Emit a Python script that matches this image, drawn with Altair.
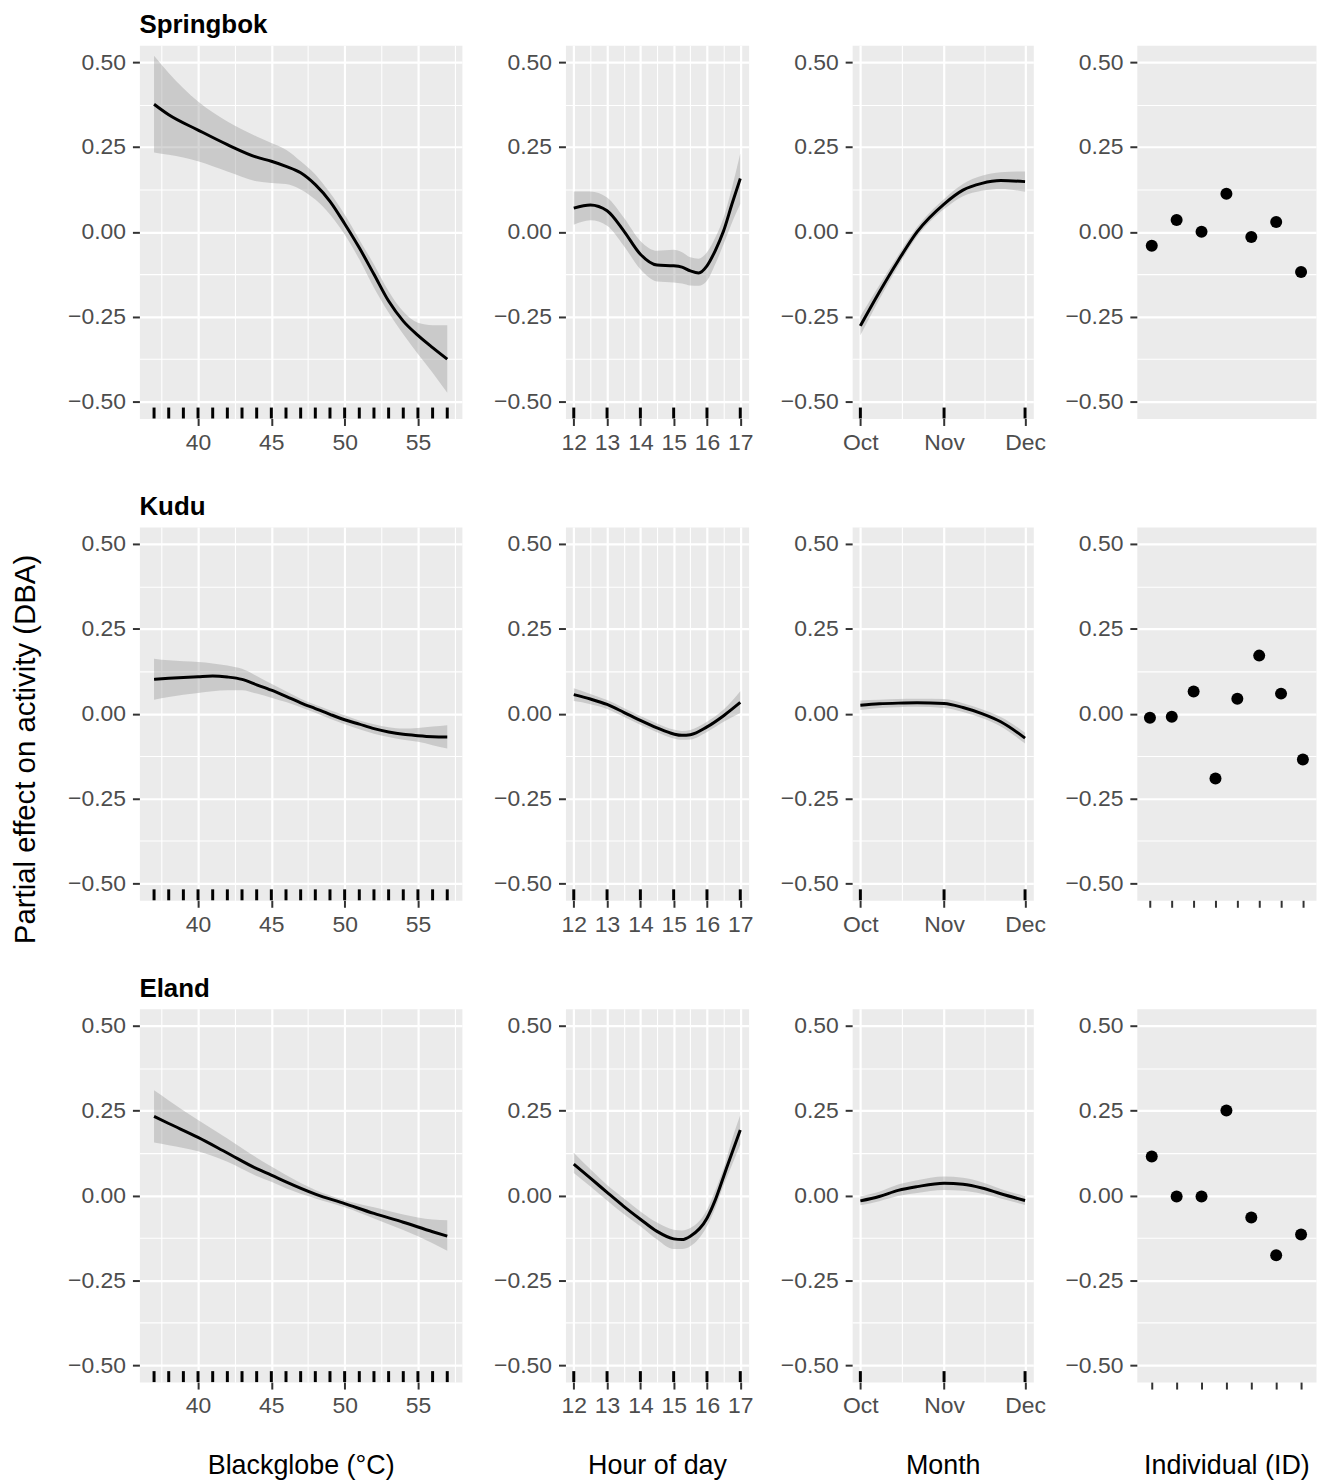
import altair as alt
import pandas as pd

FONT = "Liberation Sans"
H = 375
WIDTHS = [324, 184, 182, 180]

species = ["Springbok", "Kudu", "Eland"]
x_titles = ["Blackglobe (°C)", "Hour of day", "Month", "Individual (ID)"]
y_title = "Partial effect on activity (DBA)"

# ---------------- Blackglobe (°C) ----------------
sp_bg_x = [37, 38, 40, 42, 44, 45, 46, 47, 48, 49, 50, 51, 52, 53, 54, 55, 56, 57]
sp_bg_fit = [0.376, 0.345, 0.300, 0.257, 0.220, 0.208, 0.193, 0.174, 0.139, 0.090, 0.024, -0.047, -0.125, -0.204, -0.263, -0.305, -0.341, -0.375]
sp_bg_hi = [0.519, 0.468, 0.384, 0.325, 0.281, 0.262, 0.242, 0.208, 0.169, 0.115, 0.051, -0.023, -0.096, -0.175, -0.235, -0.268, -0.275, -0.275]
sp_bg_lo = [0.234, 0.227, 0.208, 0.178, 0.149, 0.144, 0.141, 0.125, 0.095, 0.051, -0.008, -0.081, -0.165, -0.238, -0.302, -0.360, -0.415, -0.474]

ku_bg_x = [37, 38, 40, 41, 42, 43, 44, 45, 46, 47, 48, 49, 50, 51, 52, 53, 54, 55, 56, 57]
ku_bg_fit = [0.101, 0.104, 0.109, 0.111, 0.108, 0.101, 0.085, 0.069, 0.051, 0.032, 0.015, -0.002, -0.018, -0.031, -0.044, -0.054, -0.061, -0.065, -0.068, -0.069]
ku_bg_hi = [0.162, 0.157, 0.152, 0.148, 0.142, 0.132, 0.111, 0.088, 0.066, 0.044, 0.026, 0.010, -0.005, -0.020, -0.031, -0.040, -0.044, -0.042, -0.038, -0.034]
ku_bg_lo = [0.041, 0.049, 0.061, 0.066, 0.069, 0.069, 0.059, 0.047, 0.034, 0.019, 0.003, -0.015, -0.031, -0.046, -0.059, -0.069, -0.077, -0.083, -0.093, -0.103]

el_bg_x = [37, 38, 40, 42, 44, 45, 46, 48, 50, 52, 54, 56, 57]
el_bg_fit = [0.233, 0.212, 0.171, 0.125, 0.079, 0.060, 0.040, 0.004, -0.024, -0.053, -0.079, -0.107, -0.120]
el_bg_hi = [0.310, 0.280, 0.222, 0.168, 0.111, 0.085, 0.060, 0.016, -0.014, -0.035, -0.056, -0.071, -0.073]
el_bg_lo = [0.156, 0.148, 0.130, 0.099, 0.057, 0.040, 0.021, -0.009, -0.035, -0.068, -0.102, -0.141, -0.163]

# ---------------- Hour of day ----------------
sp_hr_x = [12, 12.5, 13, 13.5, 14, 14.5, 15, 15.25, 15.5, 15.75, 16, 16.25, 16.5, 16.75, 17]
sp_hr_fit = [0.070, 0.079, 0.062, 0.003, -0.066, -0.098, -0.100, -0.104, -0.115, -0.121, -0.100, -0.055, 0.003, 0.082, 0.157]
sp_hr_hi = [0.119, 0.119, 0.101, 0.042, -0.027, -0.056, -0.053, -0.060, -0.075, -0.079, -0.060, -0.017, 0.042, 0.130, 0.231]
sp_hr_lo = [0.021, 0.034, 0.018, -0.041, -0.110, -0.146, -0.149, -0.152, -0.158, -0.159, -0.144, -0.095, -0.036, 0.027, 0.082]

ku_hr_x = [12, 12.5, 13, 13.5, 14, 14.5, 15, 15.25, 15.5, 16, 16.5, 17]
ku_hr_fit = [0.056, 0.043, 0.027, 0.004, -0.020, -0.042, -0.060, -0.064, -0.062, -0.039, -0.006, 0.033]
ku_hr_hi = [0.075, 0.058, 0.040, 0.017, -0.007, -0.029, -0.047, -0.051, -0.048, -0.024, 0.012, 0.066]
ku_hr_lo = [0.037, 0.028, 0.014, -0.009, -0.033, -0.055, -0.073, -0.077, -0.076, -0.054, -0.024, 0.002]

el_hr_x = [12, 12.5, 13, 13.5, 14, 14.5, 15, 15.25, 15.5, 16, 16.25, 16.5, 16.75, 17]
el_hr_fit = [0.092, 0.051, 0.009, -0.032, -0.070, -0.106, -0.128, -0.130, -0.120, -0.067, -0.013, 0.056, 0.125, 0.193]
el_hr_hi = [0.126, 0.077, 0.031, -0.008, -0.047, -0.080, -0.101, -0.103, -0.096, -0.042, 0.015, 0.080, 0.164, 0.237]
el_hr_lo = [0.066, 0.026, -0.015, -0.055, -0.091, -0.130, -0.158, -0.158, -0.150, -0.091, -0.037, 0.030, 0.090, 0.149]

# ---------------- Month (days since 1 Oct) ----------------
mo_days = [0, 7, 14, 21, 31, 38, 45, 52, 61]
sp_mo_fit = [-0.277, -0.178, -0.085, 0.000, 0.082, 0.123, 0.143, 0.151, 0.148]
sp_mo_hi = [-0.249, -0.157, -0.069, 0.014, 0.097, 0.141, 0.165, 0.176, 0.178]
sp_mo_lo = [-0.305, -0.199, -0.101, -0.014, 0.067, 0.105, 0.121, 0.126, 0.118]

ku_mo_fit = [0.025, 0.029, 0.031, 0.032, 0.030, 0.018, 0.000, -0.024, -0.072]
ku_mo_hi = [0.039, 0.041, 0.043, 0.044, 0.043, 0.031, 0.013, -0.010, -0.056]
ku_mo_lo = [0.011, 0.017, 0.019, 0.020, 0.017, 0.005, -0.013, -0.038, -0.088]

el_mo_fit = [-0.016, -0.003, 0.015, 0.026, 0.036, 0.033, 0.022, 0.005, -0.015]
el_mo_hi = [-0.003, 0.011, 0.032, 0.045, 0.056, 0.052, 0.039, 0.019, -0.002]
el_mo_lo = [-0.029, -0.017, -0.002, 0.007, 0.016, 0.014, 0.005, -0.009, -0.028]

# ---------------- Individual (ID) ----------------
sp_ids = ["S1", "S2", "S3", "S4", "S5", "S6", "S7"]
sp_ind = [-0.041, 0.035, 0.000, 0.112, -0.015, 0.029, -0.118]
ku_ids = ["K1", "K2", "K3", "K4", "K5", "K6", "K7", "K8"]
ku_ind = [-0.012, -0.009, 0.065, -0.191, 0.044, 0.171, 0.059, -0.135]
el_ids = ["E1", "E2", "E3", "E4", "E5", "E6", "E7"]
el_ind = [0.115, -0.003, -0.003, 0.250, -0.065, -0.176, -0.115]

# ---------------- rugs / axis breaks ----------------
rug_blackglobe = [37, 38, 39, 40, 41, 42, 43, 44, 45, 46, 47, 48, 49, 50, 51, 52, 53, 54, 55, 56, 57]
rug_hour = [12, 13, 14, 15, 16, 17]
rug_month = [0, 31, 61]

y_values = [-0.5, -0.375, -0.25, -0.125, 0.0, 0.125, 0.25, 0.375, 0.5]
bg_values = [37.5, 40, 42.5, 45, 47.5, 50, 52.5, 55, 57.5]
hr_values = [12, 12.5, 13, 13.5, 14, 14.5, 15, 15.5, 16, 16.5, 17]
month_breaks = [0, 31, 61]
month_labels = ["Oct", "Nov", "Dec"]
mo_values = [0, 15.5, 31, 46, 61]

Y_DOMAIN = [-0.55, 0.55]
BG_DOMAIN = [36, 58]
HR_DOMAIN = [11.75, 17.25]
MO_DOMAIN = [-3.05, 64.05]

YSCALE = alt.Scale(domain=Y_DOMAIN, nice=False, zero=False)


def cond_axis(values, minor_test, label_expr, **extra):
    kw = dict(
        values=values,
        labelExpr=label_expr,
        gridWidth={"condition": {"test": minor_test, "value": 1.1}, "value": 2.2},
        tickOpacity={"condition": {"test": minor_test, "value": 0}, "value": 1},
    )
    kw.update(extra)
    return alt.Axis(**kw)


Y_MINOR = "abs(datum.value * 4 - round(datum.value * 4)) > 0.01"


def y_axis(with_title=False):
    expr = f"{Y_MINOR} ? '' : replace(format(datum.value, '.2f'), '-', '\u2212')"
    if with_title:
        return cond_axis(y_values, Y_MINOR, expr, title=y_title, titleX=-105, titleY=223,
                         titleAngle=270, titleAlign="center", titleBaseline="alphabetic",
                         titleFontSize=29.5)
    return cond_axis(y_values, Y_MINOR, expr, title=None)


def x_title_kw(col, bottom):
    if bottom:
        return dict(title=x_titles[col], titleY=92, titleBaseline="alphabetic")
    return dict(title=None)


def x_axis(col, bottom):
    if col == 0:
        minor = "datum.value % 5 != 0"
        return cond_axis(bg_values, minor, f"{minor} ? '' : format(datum.value, 'd')", **x_title_kw(col, bottom))
    if col == 1:
        minor = "datum.value % 1 != 0"
        return cond_axis(hr_values, minor, f"{minor} ? '' : format(datum.value, 'd')", **x_title_kw(col, bottom))
    minor = " && ".join(f"datum.value != {b}" for b in month_breaks)
    expr = "".join(f"datum.value == {b} ? '{lab}' : " for b, lab in zip(month_breaks, month_labels)) + "''"
    return cond_axis(mo_values, minor, expr, **x_title_kw(col, bottom))


def curve_panel(col, row, x, fit, lo, hi, rug, domain):
    df = pd.DataFrame({"x": x, "fit": fit, "lo": lo, "hi": hi})
    rdf = pd.DataFrame({"x": rug})
    xs = alt.Scale(domain=domain, nice=False, zero=False)
    bottom = row == 2
    xa = x_axis(col, bottom)
    ya = y_axis(with_title=(row == 1 and col == 0))
    band = alt.Chart(df).mark_area(color="#999999", opacity=0.4, interpolate="monotone").encode(
        x=alt.X("x:Q", scale=xs, axis=xa),
        y=alt.Y("lo:Q", scale=YSCALE, axis=ya),
        y2="hi:Q",
    )
    line = alt.Chart(df).mark_line(color="black", strokeWidth=3, interpolate="monotone").encode(
        x=alt.X("x:Q", scale=xs, axis=xa),
        y=alt.Y("fit:Q", scale=YSCALE, axis=ya),
    )
    rugm = alt.Chart(rdf).mark_rule(color="black", strokeWidth=3).encode(
        x=alt.X("x:Q", scale=xs, axis=xa),
        y=alt.value(H - 11),
        y2=alt.value(H),
    )
    ch = alt.layer(band, line, rugm).properties(width=WIDTHS[col], height=H)
    if col == 0:
        ch = ch.properties(title=alt.TitleParams(
            text=species[row], anchor="start", frame="group", baseline="alphabetic",
            offset=-14, fontSize=26, fontWeight="bold", font=FONT, color="black"))
    return ch


def ind_panel(row, ids, vals):
    df = pd.DataFrame({"id": ids, "v": vals})
    bottom = row == 2
    ax = alt.Axis(labels=False, ticks=(row != 0), gridWidth=2.2, **x_title_kw(3, bottom))
    return alt.Chart(df).mark_circle(color="black", size=145, opacity=1).encode(
        x=alt.X("id:N", sort=ids, scale=alt.Scale(type="point", padding=0.6), axis=ax),
        y=alt.Y("v:Q", scale=YSCALE, axis=y_axis()),
    ).properties(width=WIDTHS[3], height=H)


rows_data = [
    (sp_bg_x, sp_bg_fit, sp_bg_lo, sp_bg_hi, sp_hr_x, sp_hr_fit, sp_hr_lo, sp_hr_hi,
     sp_mo_fit, sp_mo_lo, sp_mo_hi, sp_ids, sp_ind),
    (ku_bg_x, ku_bg_fit, ku_bg_lo, ku_bg_hi, ku_hr_x, ku_hr_fit, ku_hr_lo, ku_hr_hi,
     ku_mo_fit, ku_mo_lo, ku_mo_hi, ku_ids, ku_ind),
    (el_bg_x, el_bg_fit, el_bg_lo, el_bg_hi, el_hr_x, el_hr_fit, el_hr_lo, el_hr_hi,
     el_mo_fit, el_mo_lo, el_mo_hi, el_ids, el_ind),
]

panels = []
for r, d in enumerate(rows_data):
    (bgx, bgf, bgl, bgh, hrx, hrf, hrl, hrh, mof, mol, moh, ids, ind) = d
    panels.append(curve_panel(0, r, bgx, bgf, bgl, bgh, rug_blackglobe, BG_DOMAIN))
    panels.append(curve_panel(1, r, hrx, hrf, hrl, hrh, rug_hour, HR_DOMAIN))
    panels.append(curve_panel(2, r, mo_days, mof, mol, moh, rug_month, MO_DOMAIN))
    panels.append(ind_panel(r, ids, ind))

chart = alt.concat(
    *panels, columns=4, spacing={"row": 109, "column": 104}, bounds="flush", align="each"
).properties(
    padding={"left": 2, "top": 0, "right": 0, "bottom": 0}
).configure(font=FONT).configure_view(
    fill="#EBEBEB", stroke="transparent"
).configure_axis(
    labelFont=FONT, titleFont=FONT, labelFontSize=23, titleFontSize=27,
    labelColor="#4D4D4D", titleColor="black", titleFontWeight="normal",
    tickColor="#333333", tickSize=7, tickWidth=2, gridColor="white",
    domain=False, labelFlush=False, labelOverlap=False,
).configure_axisX(labelPadding=6).configure_axisY(labelPadding=7)

chart.save("out.html", embed_options={"renderer": "svg", "actions": False})
